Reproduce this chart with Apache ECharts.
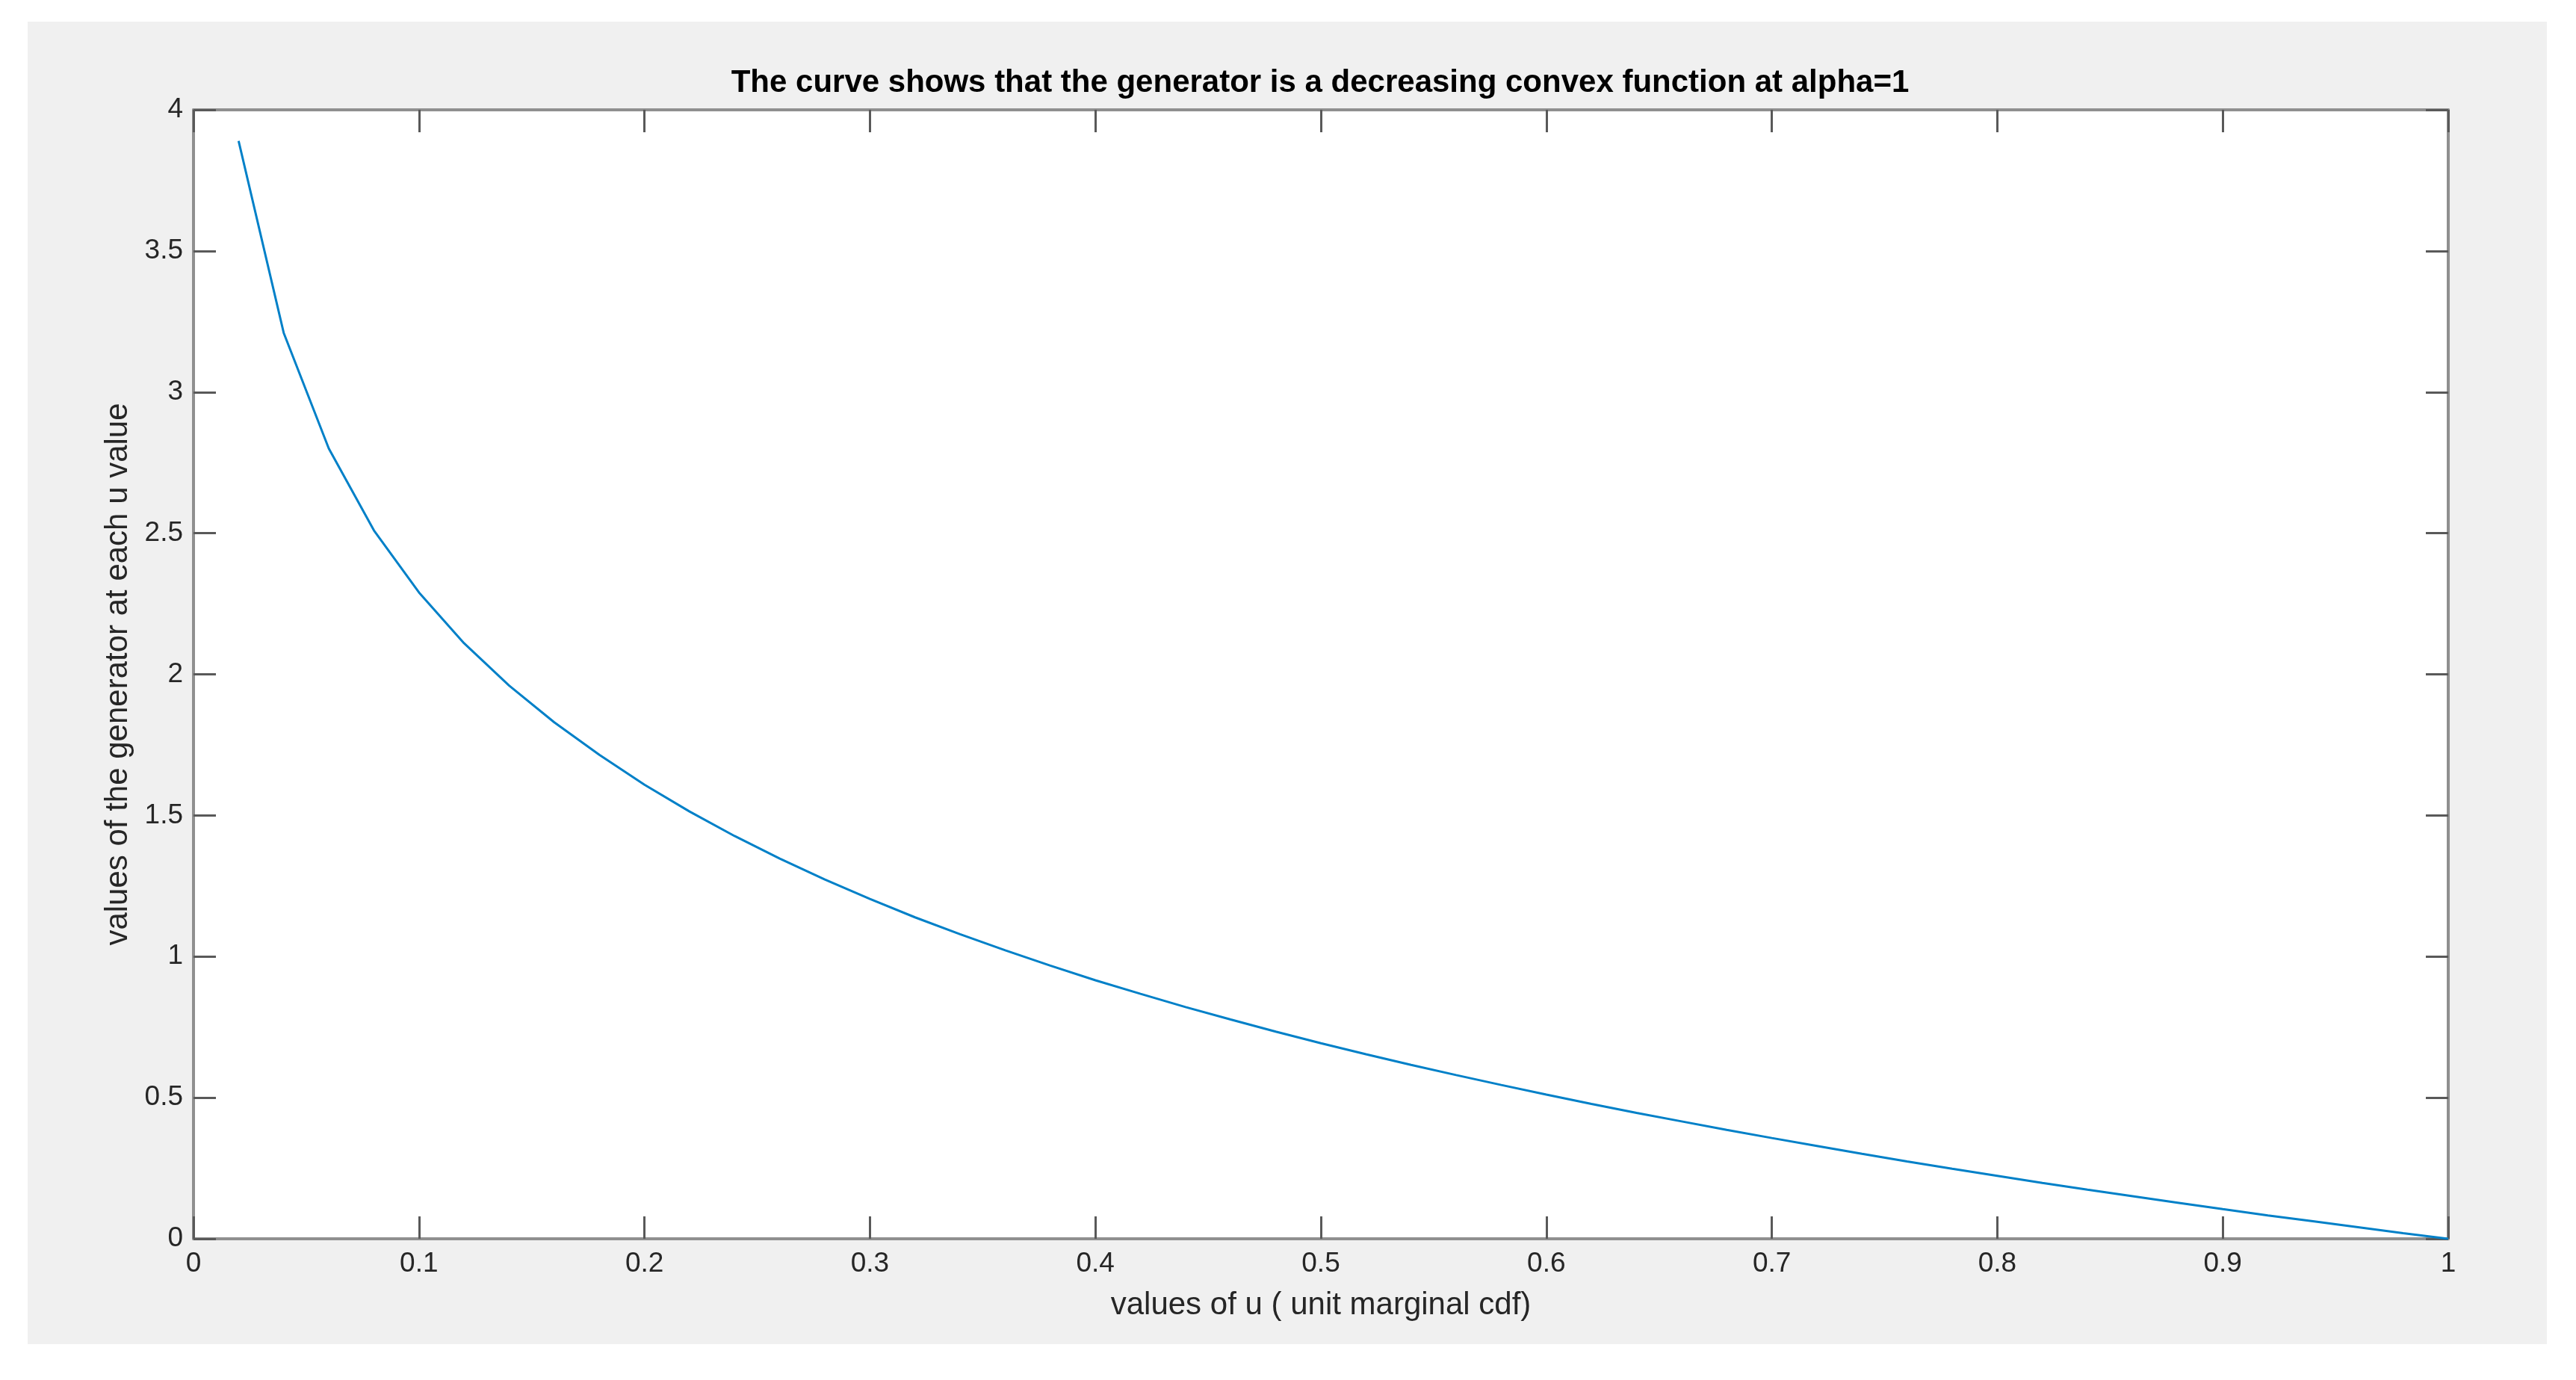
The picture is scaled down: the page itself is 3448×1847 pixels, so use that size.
<!DOCTYPE html>
<html>
<head>
<meta charset="utf-8">
<script src="https://cdn.jsdelivr.net/npm/echarts@6/dist/echarts.min.js"></script>
<style>
html,body{margin:0;padding:0;background:#ffffff;}
#chart{width:3448px;height:1847px;}
</style>
</head>
<body>
<div id="chart"></div>
<script>
// u values (unit marginal cdf)
const uValues = [0.02,0.04,0.06,0.08,0.10,0.12,0.14,0.16,0.18,0.20,
  0.22,0.24,0.26,0.28,0.30,0.32,0.34,0.36,0.38,0.40,
  0.42,0.44,0.46,0.48,0.50,0.52,0.54,0.56,0.58,0.60,
  0.62,0.64,0.66,0.68,0.70,0.72,0.74,0.76,0.78,0.80,
  0.82,0.84,0.86,0.88,0.90,0.92,0.94,0.96,0.98,1.00];
// generator values at each u
const generatorValues = [3.89,3.21,2.80,2.51,2.29,2.11,1.96,1.83,1.715,1.609,
  1.514,1.427,1.347,1.273,1.204,1.139,1.079,1.022,0.968,0.916,
  0.868,0.821,0.777,0.734,0.693,0.654,0.616,0.580,0.545,0.511,
  0.478,0.446,0.416,0.386,0.357,0.329,0.301,0.274,0.248,0.223,
  0.198,0.174,0.151,0.128,0.105,0.083,0.062,0.041,0.020,0.000];
const xTickLabels = ['0','0.1','0.2','0.3','0.4','0.5','0.6','0.7','0.8','0.9','1'];
const yTickLabels = ['0','0.5','1','1.5','2','2.5','3','3.5','4'];
const titleText = 'The curve shows that the generator is a decreasing convex function at alpha=1';
const xName = 'values of u ( unit marginal cdf)';
const yName = 'values of the generator at each u value';

const chart = echarts.init(document.getElementById('chart'), null, {renderer:'canvas'});
const FONT = '"Liberation Sans", Arial, Helvetica, sans-serif';
const axisLineStyle = {color:'#8f8f8f', width:4};
const tickStyle = {color:'#595959', width:3};
const labelStyle = {color:'#262626', fontSize:37, fontFamily:FONT};
const fmtX = v => xTickLabels[Math.round(v*10)];
const fmtY = v => yTickLabels[Math.round(v*2)];

const option = {
  backgroundColor:'#ffffff',
  animation:false,
  graphic:[{
    type:'rect', z:-10, silent:true,
    shape:{x:37, y:29, width:3372, height:1770},
    style:{fill:'#f0f0f0'}
  }],
  title:{
    text:titleText,
    left:1762, top:85, textAlign:'center',
    textStyle:{fontFamily:FONT, fontWeight:'bold', fontSize:42, color:'#000000'}
  },
  grid:{
    left:259, right:171, top:147, bottom:189,
    show:true, backgroundColor:'#ffffff', borderColor:'#8f8f8f', borderWidth:0
  },
  xAxis:[{
    type:'value', min:0, max:1, interval:0.1, position:'bottom',
    name:xName, nameLocation:'middle', nameGap:68,
    nameTextStyle:{color:'#262626', fontSize:42, fontFamily:FONT},
    axisLine:{show:true, onZero:false, lineStyle:axisLineStyle},
    axisTick:{show:true, inside:true, length:30, lineStyle:tickStyle},
    axisLabel:{show:true, margin:15, formatter:fmtX, ...labelStyle},
    splitLine:{show:false}
  },{
    type:'value', min:0, max:1, interval:0.1, position:'top',
    axisLine:{show:true, onZero:false, lineStyle:axisLineStyle},
    axisTick:{show:true, inside:true, length:30, lineStyle:tickStyle},
    axisLabel:{show:false}, splitLine:{show:false}
  }],
  yAxis:[{
    type:'value', min:0, max:4, interval:0.5, position:'left',
    name:yName, nameLocation:'middle', nameGap:80, nameRotate:90,
    nameTextStyle:{color:'#262626', fontSize:42, fontFamily:FONT},
    axisLine:{show:true, onZero:false, lineStyle:axisLineStyle},
    axisTick:{show:true, inside:true, length:30, lineStyle:tickStyle},
    axisLabel:{show:true, margin:14, formatter:fmtY, ...labelStyle},
    splitLine:{show:false}
  },{
    type:'value', min:0, max:4, interval:0.5, position:'right',
    axisLine:{show:true, onZero:false, lineStyle:axisLineStyle},
    axisTick:{show:true, inside:true, length:30, lineStyle:tickStyle},
    axisLabel:{show:false}, splitLine:{show:false}
  }],
  series:[{
    type:'line',
    xAxisIndex:0, yAxisIndex:0,
    data:uValues.map((u,i)=>[u, generatorValues[i]]),
    showSymbol:false, symbol:'none',
    lineStyle:{color:'#0080C8', width:3},
    z:5
  }]
};
chart.setOption(option);
</script>
</body>
</html>
